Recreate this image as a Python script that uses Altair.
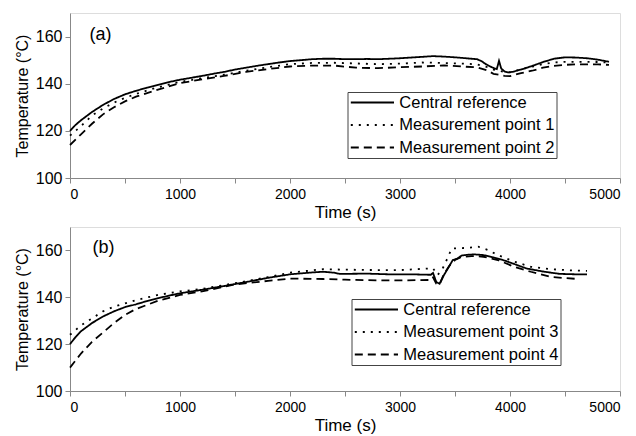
import altair as alt
import pandas as pd

FONT = "Liberation Sans"

# ---------- panel (a) ----------
a_ref_t = [0, 50, 100, 200, 300, 400, 500, 600, 700, 800, 900, 1000, 1100, 1200, 1300, 1400, 1500,
           1600, 1700, 1800, 1900, 2000, 2100, 2200, 2300, 2400, 2500, 2600, 2700, 2800, 2900, 3000,
           3100, 3200, 3300, 3400, 3500, 3600, 3700, 3740, 3780, 3820, 3860, 3880, 3900, 3920, 3950,
           3980, 4020, 4100, 4200, 4300, 4400, 4500, 4600, 4700, 4800, 4900]
a_ref_T = [120, 122.5, 124.5, 128, 131, 133.5, 135.5, 137, 138.3, 139.5, 140.7, 141.7, 142.5, 143.3,
           144.2, 145, 146, 146.8, 147.6, 148.3, 149, 149.6, 150, 150.4, 150.6, 150.6, 150.4, 150.4,
           150.5, 150.4, 150.6, 150.8, 151.1, 151.4, 151.7, 151.5, 151.2, 150.8, 150.4, 149.6, 148.3,
           147.3, 146.5, 146.2, 149.7, 146.5, 145.2, 144.8, 145.0, 146.0, 147.5, 149.2, 150.6, 151.2,
           151.1, 150.8, 150.2, 149.3]

a_mp_t = [0, 100, 200, 300, 400, 500, 600, 800, 1000, 1200, 1400, 1600, 1800, 2000, 2200, 2400, 2600,
          2800, 3000, 3200, 3400, 3600, 3700, 3800, 3850, 3900, 3950, 4000, 4100, 4200, 4300, 4400,
          4500, 4600, 4700, 4800, 4900]
a_mp1_T = [118, 122, 126.5, 129.5, 132, 134, 135.7, 138.5, 140.8, 142.3, 143.8, 145.5, 147, 148.3,
           148.8, 148.9, 148.6, 148.3, 148.5, 149, 148.8, 148.5, 148.2, 147, 146, 145.5, 145, 144.8,
           146, 147.2, 148.3, 149, 149.3, 149.3, 149.3, 149.2, 149]
a_mp2_T = [114, 118.5, 123, 127, 130, 132.5, 134.5, 137.5, 140.3, 141.8, 143.3, 145, 146.2, 147.3,
           147.7, 147.7, 146.8, 146.6, 147, 147.3, 147.8, 147.2, 147, 145.5, 144.2, 143.8, 143.3,
           143.2, 144.5, 145.5, 146.8, 147.6, 148, 148.2, 148.2, 148.2, 148]

# ---------- panel (b) ----------
b_ref_t = [0, 50, 100, 200, 300, 400, 500, 600, 700, 800, 900, 1000, 1200, 1400, 1600, 1800, 2000,
           2200, 2300, 2400, 2450, 2500, 2700, 2900, 3100, 3280, 3300, 3330, 3360, 3400, 3450, 3480,
           3520, 3560, 3620, 3680, 3760, 3850, 3950, 4050, 4150, 4300, 4450, 4600, 4700]
b_ref_T = [120, 123, 125.5, 129, 131.8, 134, 135.8, 137, 138.4, 139.6, 140.7, 141.7, 143.2, 144.8,
           146.5, 148.3, 149.8, 150.6, 150.9, 150.5, 150.0, 150.0, 150.1, 149.8, 149.8, 149.6, 150.4,
           146.5, 145.8, 149.5, 153.5, 155.9, 156.5, 157.8, 158.2, 158.3, 158.0, 157.0, 155.7, 154.0,
           152.3, 151.0, 150.0, 149.8, 149.8]

b_mp3_t = [0, 100, 200, 300, 400, 600, 800, 1000, 1200, 1500, 1800, 2000, 2300, 2500, 2800, 3000,
           3300, 3340, 3380, 3430, 3470, 3550, 3620, 3710, 3800, 3890, 4040, 4190, 4370, 4550, 4700]
b_mp3_T = [124, 128, 131, 134, 136, 138.8, 141, 142.5, 143.6, 146, 148.6, 150.5, 152, 151.8, 151.6,
           151.6, 152.4, 149.5, 151.5, 156.5, 160.8, 161.0, 161.1, 161.6, 160.2, 158, 155.2, 153,
           152, 151.5, 151.3]

b_mp4_t = [0, 50, 100, 200, 300, 400, 500, 600, 800, 1000, 1200, 1500, 1800, 2000, 2300, 2500, 2800,
           3000, 3280, 3300, 3330, 3360, 3400, 3450, 3500, 3560, 3650, 3760, 3890, 4040, 4190, 4370,
           4500, 4620]
b_mp4_T = [110, 113, 116, 121, 125, 129, 132.5, 135, 138.5, 141, 142.5, 145.5, 147, 148, 147.8,
           147.5, 147.2, 147.2, 147.4, 148.5, 145.8, 145.5, 150, 153.5, 155.9, 157.2, 157.6, 157.3,
           155.9, 153, 150.9, 148.7, 148.2, 147.8]

a_names = ["Central reference", "Measurement point 1", "Measurement point 2"]
b_names = ["Central reference", "Measurement point 3", "Measurement point 4"]

panel_labels = ["(a)", "(b)"]
panel_label_t = [278, 304]
panel_label_T = [160.7, 160.9]

x_ticks = list(range(0, 5001, 500))
y_ticks = list(range(100, 171, 10))


def long(ts, vs, name):
    return pd.DataFrame({"t": ts, "T": vs, "series": name})


df_a = pd.concat([long(a_ref_t, a_ref_T, a_names[0]),
                  long(a_mp_t, a_mp1_T, a_names[1]),
                  long(a_mp_t, a_mp2_T, a_names[2])])
df_b = pd.concat([long(b_ref_t, b_ref_T, b_names[0]),
                  long(b_mp3_t, b_mp3_T, b_names[1]),
                  long(b_mp4_t, b_mp4_T, b_names[2])])

dash_range = [[1, 0], [2, 6], [8, 5]]

# long legend stroke drawn as a custom path: length 6r with layout size 2r
SYM_R = 7.2
SYM_SIZE = (2 * SYM_R) ** 2


def panel(df, names, label_idx, lx, ly, height):
    xenc = alt.X("t:Q", scale=alt.Scale(domain=[0, 5000], nice=False),
                 axis=alt.Axis(title="Time (s)", values=x_ticks,
                               labelExpr="datum.value % 1000 == 0 ? datum.label : ''",
                               labelFontSize=14, titleFontSize=17, labelPadding=4,
                               titlePadding=3, grid=False, format="d",
                               titleFontWeight="normal"))
    yenc = alt.Y("T:Q", scale=alt.Scale(domain=[100, 170], nice=False),
                 axis=alt.Axis(title="Temperature (°C)", values=y_ticks,
                               labelExpr="datum.value % 20 == 0 ? datum.label : ''",
                               labelFontSize=16, titleFontSize=16, labelPadding=3,
                               titlePadding=5, grid=False, titleFontWeight="normal"))
    lines = alt.Chart(df).mark_line(strokeWidth=1.8, color="black").encode(
        x=xenc, y=yenc,
        order="t:Q",
        strokeDash=alt.StrokeDash(
            "series:N",
            scale=alt.Scale(domain=names, range=dash_range),
            legend=alt.Legend(title=None, orient="none", legendX=lx, legendY=ly,
                              symbolType="M-1,0H5", symbolSize=SYM_SIZE, symbolStrokeWidth=1.8,
                              symbolStrokeColor="black", symbolFillColor="transparent",
                              labelFontSize=16.5, labelFont=FONT,
                              labelColor="black", labelOffset=4 * SYM_R + 4, padding=2,
                              rowPadding=5.5, strokeColor="#444", labelLimit=400),
        ),
    )
    lab = alt.Chart(pd.DataFrame({"t": [panel_label_t[label_idx]],
                                  "T": [panel_label_T[label_idx]],
                                  "txt": [panel_labels[label_idx]]})).mark_text(
        fontSize=18, font=FONT, color="black").encode(x="t:Q", y="T:Q", text="txt:N")
    return alt.layer(lines, lab).properties(width=550, height=height)


pa = panel(df_a, a_names, 0, 277.5, 79, 165)
pb = panel(df_b, b_names, 1, 281.5, 72, 164)

chart = alt.vconcat(pa, pb, spacing=5).resolve_scale(strokeDash="independent").resolve_legend(
    strokeDash="independent"
).properties(
    padding={"left": 5, "top": 4, "right": 0, "bottom": 0}
).configure_view(stroke="black", strokeWidth=1.5).configure_axis(
    labelFont=FONT, titleFont=FONT, labelColor="black", titleColor="black",
    domainColor="black", tickColor="black", domainWidth=1.5, tickWidth=1.3, tickSize=5,
    titleFontWeight="normal"
).configure(background="white")

chart.save("out.html", embed_options={"renderer": "svg", "actions": False})
